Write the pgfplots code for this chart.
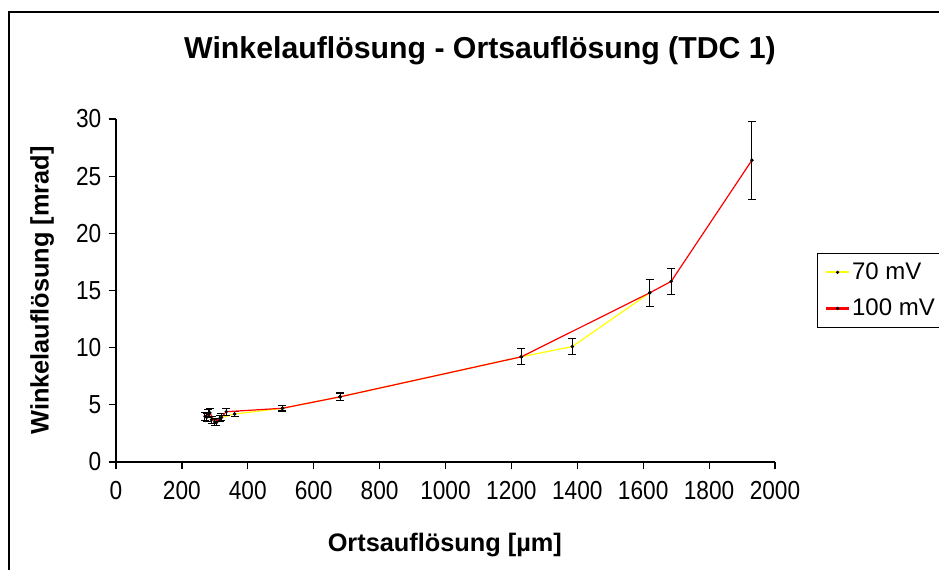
\documentclass[border=0pt]{standalone}
\usepackage{fontspec}
\setmainfont{Liberation Sans}
\usepackage{pgfplots}
\usepackage{pgfplotstable}
\pgfplotsset{compat=1.18}
\pgfplotstableread{
x y e
270 4.0 0.35
280 4.2 0.35
290 3.7 0.3
305 3.45 0.25
320 3.9 0.3
360 4.2 0.25
505 4.7 0.25
680 5.7 0.35
1230 9.2 0.7
1385 10.1 0.7
1620 14.8 1.2
}\seventy
\pgfplotstableread{
x y e
275 3.9 0.35
285 4.3 0.35
300 3.5 0.3
315 3.8 0.3
335 4.4 0.3
505 4.7 0.2
680 5.7 0.3
1230 9.2 0.7
1620 14.8 1.2
1685 15.8 1.15
1930 26.4 3.4
}\hundred
\definecolor{xlyellow}{RGB}{255,255,0}
\definecolor{xlred}{RGB}{255,0,0}
\begin{document}
\begin{tikzpicture}
\useasboundingbox (0,0) rectangle (704.25pt,426.75pt);
\draw[line width=1.1pt] (6.75pt,-5pt) -- (6.75pt,417.75pt) -- (720pt,417.75pt);
\node[font=\fontsize{22.7}{26}\selectfont\bfseries] at (360pt,388.5pt) {Winkelauflösung - Ortsauflösung (TDC 1)};
\begin{axis}[
  at={(87pt,80.25pt)}, anchor=south west,
  scale only axis, width=494.25pt, height=257.25pt,
  xmin=0, xmax=2000, ymin=0, ymax=30,
  xtick={0,200,...,2000}, ytick={0,5,...,30},
  axis x line=bottom, axis y line=left,
  axis line style={-, line width=0.9pt},
  tick style={black, line width=0.9pt},
  major tick length=5.5pt, tick align=outside,
  ticklabel style={font=\fontsize{17}{20}\selectfont, yscale=1.15},
  xticklabel style={yshift=-4.5pt},
  yticklabel style={xshift=-2pt},
  /pgf/number format/assume math mode=true,
  /pgf/number format/1000 sep={},
  xlabel={Ortsauflösung [µm]},
  ylabel={Winkelauflösung [mrad]},
  label style={font=\fontsize{19}{22}\selectfont\bfseries},
  xlabel style={at={(axis description cs:0.499,-0.242)}, anchor=center},
  ylabel style={at={(axis description cs:-0.112,0.5)}, anchor=center},
  clip=false,
  legend style={at={(axis description cs:1.064,0.609)}, anchor=north west,
    draw=black, line width=0.75pt, font=\fontsize{18}{21}\selectfont,
    row sep=9pt, inner ysep=5pt, inner xsep=6pt},
  legend cell align=left,
]
\addplot[forget plot, color=xlyellow, line width=0.9pt, mark=*, mark size=0.8pt, mark options={black},
  error bars/.cd, y dir=both, y explicit,
  error bar style={black, line width=0.75pt},
  error mark options={black, rotate=90, mark size=3pt, line width=0.75pt}]
  table[x=x, y=y, y error=e] {\seventy};
\addplot[forget plot, color=xlred, line width=0.9pt, mark=*, mark size=0.8pt, mark options={black},
  error bars/.cd, y dir=both, y explicit,
  error bar style={black, line width=0.75pt},
  error mark options={black, rotate=90, mark size=3pt, line width=0.75pt}]
  table[x=x, y=y, y error=e] {\hundred};
\addlegendimage{legend image code/.code={
    \fill[xlyellow] (0cm,-0.45pt) rectangle (0.6cm,0.45pt);
    \fill[black] (0.3cm,0pt) circle (0.8pt);}}
\addlegendentry{70 mV}
\addlegendimage{legend image code/.code={
    \fill[xlred] (0cm,-0.45pt) rectangle (0.6cm,0.45pt);
    \fill[black] (0.3cm,0pt) circle (0.8pt);}}
\addlegendentry{100 mV}
\end{axis}
\end{tikzpicture}
\end{document}
